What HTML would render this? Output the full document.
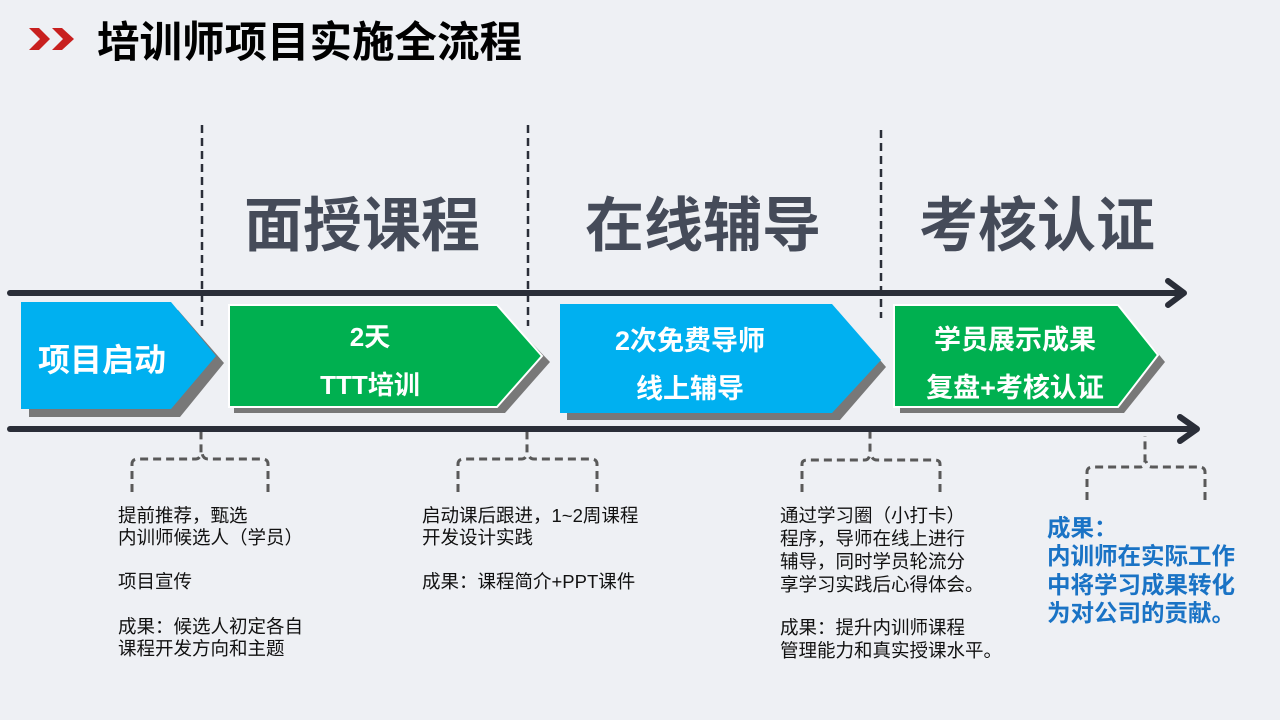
<!DOCTYPE html>
<html><head><meta charset="utf-8"><style>
html,body{margin:0;padding:0;background:#eef0f4;}
svg{display:block;}
text{font-family:"Liberation Sans","Noto Sans CJK SC",sans-serif;}
</style></head><body>
<svg width="1280" height="720" viewBox="0 0 1280 720" xmlns="http://www.w3.org/2000/svg">
<rect width="1280" height="720" fill="#eef0f4"/>
<polygon points="29,28 39,28 50,39 39,50 29,50 40,39" fill="#c8201f"/>
<polygon points="52,28 62,28 74,39 62,50 52,50 63,39" fill="#c8201f"/>
<text x="97" y="57" font-size="42.5" font-weight="bold" fill="#000">培训师项目实施全流程</text>

<g font-size="59" font-weight="bold" fill="#454b59" text-anchor="middle">
<text x="362" y="246">面授课程</text>
<text x="703" y="246">在线辅导</text>
<text x="1037" y="246">考核认证</text>
</g>

<g stroke="#2a2e38" stroke-width="2.5" stroke-dasharray="8,5">
<line x1="202" y1="125" x2="202" y2="326"/>
<line x1="528" y1="125" x2="528" y2="326"/>
<line x1="881" y1="130" x2="881" y2="318"/>
</g>

<g stroke="#2a2e38" stroke-width="6" fill="none" stroke-linecap="round" stroke-linejoin="round">
<line x1="10" y1="293" x2="1182" y2="293"/>
<polyline points="1168,281 1184,293 1168,305"/>
<line x1="10" y1="429" x2="1195" y2="429"/>
<polyline points="1180,417 1197,429 1180,441"/>
</g>

<g fill="#787878">
<polygon points="29,310 178,310 224,363 180,417 29,417"/>
<polygon points="234,312 502,312 550,362 505,413 234,413"/>
<polygon points="567,311 838,311 886,367 840,420 567,420"/>
<polygon points="900,312 1124,312 1165,362 1124,413 900,413"/>
</g>
<polygon points="21,302 171,302 216,356 171,409 21,409" fill="#00b0f0"/>
<polygon points="229,305 497,305 542,356 497,407 229,407" fill="#00b050" stroke="#ffffff" stroke-width="2"/>
<polygon points="560,304 832,304 881,360 832,413 560,413" fill="#00b0f0"/>
<polygon points="894,305 1118,305 1158,355 1118,407 894,407" fill="#00b050" stroke="#ffffff" stroke-width="2"/>

<g fill="#fff" font-weight="bold" text-anchor="middle">
<text x="102" y="371" font-size="32">项目启动</text>
<text x="370" y="346" font-size="26">2天</text>
<text x="370" y="394" font-size="26">TTT培训</text>
<text x="690" y="350" font-size="27">2次免费导师</text>
<text x="690" y="398" font-size="27">线上辅导</text>
<text x="1015" y="349" font-size="27">学员展示成果</text>
<text x="1015" y="397" font-size="27">复盘+考核认证</text>
</g>

<g stroke="#595959" stroke-width="3" fill="none" stroke-dasharray="8,5">
<path d="M132,492 V464 Q132,459 138,459 H196 Q200,459 201,453 V432"/>
<path d="M268,492 V464 Q268,459 262,459 H208 Q203,459 202,453"/>
<path d="M458,492 V464 Q458,459 464,459 H522 Q526,459 527,453 V432"/>
<path d="M597,492 V464 Q597,459 591,459 H534 Q529,459 528,453"/>
<path d="M802,492 V464 Q802,460 808,460 H865 Q869,460 870,454 V432"/>
<path d="M940,492 V464 Q940,460 934,460 H877 Q872,460 871,454"/>
<path d="M1087,500 V472 Q1087,467 1093,467 H1140 Q1144,467 1145,461 V436"/>
<path d="M1205,500 V472 Q1205,467 1199,467 H1152 Q1147,467 1146,461"/>
</g>

<g font-size="18.5" fill="#111">
<text x="118" y="522">提前推荐，甄选</text>
<text x="118" y="544">内训师候选人（学员）</text>
<text x="118" y="588">项目宣传</text>
<text x="118" y="633">成果：候选人初定各自</text>
<text x="118" y="655">课程开发方向和主题</text>

<text x="422" y="522">启动课后跟进，1~2周课程</text>
<text x="422" y="544">开发设计实践</text>
<text x="422" y="588">成果：课程简介+PPT课件</text>

<text x="780" y="522">通过学习圈（小打卡）</text>
<text x="780" y="545">程序，导师在线上进行</text>
<text x="780" y="568">辅导，同时学员轮流分</text>
<text x="780" y="591">享学习实践后心得体会。</text>
<text x="780" y="634">成果：提升内训师课程</text>
<text x="780" y="657">管理能力和真实授课水平。</text>
</g>
<g font-size="23.5" font-weight="bold" fill="#1a73c5">
<text x="1047" y="536">成果：</text>
<text x="1047" y="564">内训师在实际工作</text>
<text x="1047" y="593">中将学习成果转化</text>
<text x="1047" y="621">为对公司的贡献。</text>
</g>
</svg>
</body></html>
